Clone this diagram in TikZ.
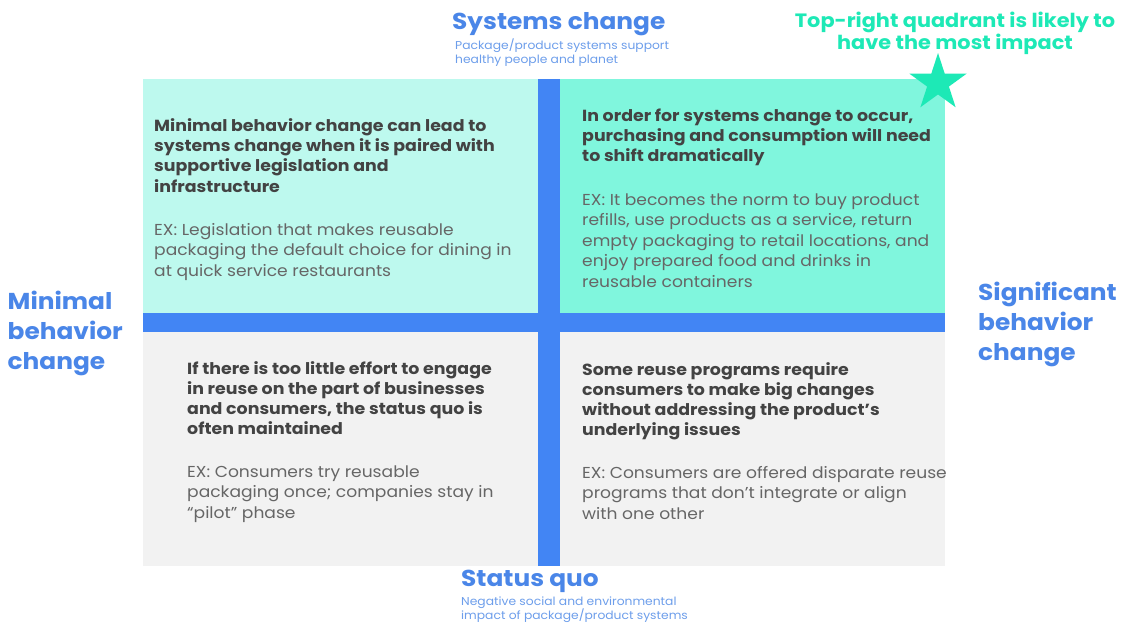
\documentclass[tikz,border=0pt]{standalone}
\usepackage{fontspec}
\setmainfont{Poppins}[FakeStretch=1.08]
\usetikzlibrary{shapes.geometric}
\definecolor{bluebar}{HTML}{4285F4}
\definecolor{headblue}{HTML}{4A86E8}
\definecolor{subblue}{HTML}{6D9EEB}
\definecolor{mintL}{HTML}{BDF9EE}
\definecolor{mintR}{HTML}{80F6DD}
\definecolor{tealc}{HTML}{1DE9B6}
\definecolor{grayq}{HTML}{F2F2F2}
\definecolor{boldtxt}{HTML}{434343}
\definecolor{bodytxt}{HTML}{666666}
\begin{document}
\begin{tikzpicture}[x=1pt,y=-1pt,
  qhead/.style={anchor=base west, align=left, inner sep=0pt, text=boldtxt, font=\fontsize{16.1}{20.2}\selectfont\bfseries},
  qbody/.style={anchor=base west, align=left, inner sep=0pt, text=bodytxt, font=\fontsize{15.85}{20.5}\selectfont},
  axislabel/.style={anchor=base west, align=left, inner sep=0pt, text=headblue, font=\fontsize{23}{30.3}\selectfont\bfseries},
  axissub/.style={anchor=base west, align=left, inner sep=0pt, text=subblue, font=\fontsize{11.4}{14}\selectfont},
  note/.style={anchor=base, align=center, inner sep=0pt, text=tealc, font=\fontsize{19.3}{22.5}\selectfont\bfseries}]
\useasboundingbox (0,0) rectangle (1123,624);
\fill[white] (0,0) rectangle (1123,624);
% quadrants
\fill[mintL] (143,79) rectangle (538,313);
\fill[mintR] (560,79) rectangle (945,313);
\fill[grayq] (143,332) rectangle (538,566);
\fill[grayq] (560,332) rectangle (945,566);
% axes bars
\fill[bluebar] (538,79) rectangle (560,566);
\fill[bluebar] (143,313) rectangle (945,332);
% star
\node (star) [star, star points=5, star point ratio=2.618, fill=tealc, minimum size=60pt, inner sep=0pt] at (938,83) {};
% axis labels (anchored at the baseline of the last line)
\node (sys) [axislabel] at (452,29.3) {Systems change};
\node (syssub) [axissub] at (455,63.3) {Package/product systems support\\healthy people and planet};
\node (sq) [axislabel] at (461,586.7) {Status quo};
\node (sqsub) [axissub] at (461,619.5) {Negative social and environmental\\impact of package/product systems};
\node (minb) [axislabel] at (7.5,369.6) {Minimal\\behavior\\change};
\node (sigb) [axislabel] at (978,360.6) {Significant\\behavior\\change};
\node (topnote) [note] at (955,49.8) {Top-right quadrant is likely to\\have the most impact};
% quadrant texts
\node (tlh) [qhead] at (154,192.1) {Minimal behavior change can lead to\\systems change when it is paired with\\supportive legislation and\\infrastructure};
\node (tlb) [qbody] at (154,276) {EX: Legislation that makes reusable\\packaging the default choice for dining in\\at quick service restaurants};
\node (trh) [qhead] at (582,161.9) {In order for systems change to occur,\\purchasing and consumption will need\\to shift dramatically};
\node (trb) [qbody] at (582,287) {EX: It becomes the norm to buy product\\refills, use products as a service, return\\empty packaging to retail locations, and\\enjoy prepared food and drinks in\\reusable containers};
\node (blh) [qhead] at (187,434.6) {If there is too little effort to engage\\in reuse on the part of businesses\\and consumers, the status quo is\\often maintained};
\node (blb) [qbody] at (187,518) {EX: Consumers try reusable\\packaging once; companies stay in\\“pilot” phase};
\node (brh) [qhead] at (582,435.6) {Some reuse programs require\\consumers to make big changes\\without addressing the product’s\\underlying issues};
\node (brb) [qbody] at (582,519.3) {EX: Consumers are offered disparate reuse\\programs that don’t integrate or align\\with one other};
\end{tikzpicture}
\end{document}
